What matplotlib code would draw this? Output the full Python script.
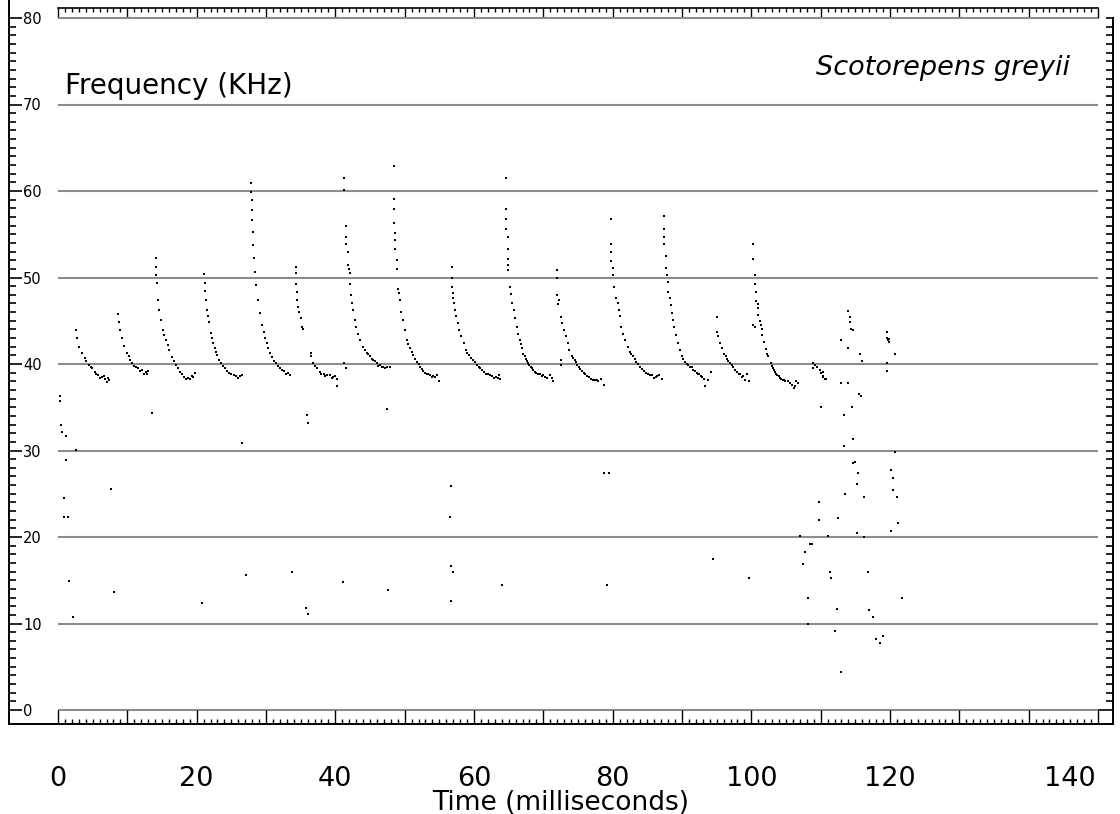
import matplotlib
matplotlib.use("Agg")
import matplotlib.pyplot as plt
from matplotlib.ticker import MultipleLocator, FixedLocator, NullFormatter

# --- data: (time ms, frequency kHz) ---
call_01 = [(2.6, 43.9), (2.8, 43.0), (3.1, 42.0), (3.5, 41.3), (3.9, 40.7), (4.1, 40.4), (4.4, 39.9),
           (4.7, 39.6), (4.9, 39.5), (5.3, 39.1), (5.5, 38.9), (5.8, 38.7), (6.0, 38.4), (6.3, 38.5),
           (6.6, 38.6), (6.8, 38.3), (7.0, 37.9), (7.2, 38.4), (7.3, 38.1)]
call_02 = [(8.6, 45.8), (8.75, 44.9), (8.9, 43.9), (9.2, 43.0), (9.5, 42.1), (9.9, 41.3), (10.2, 40.9),
           (10.4, 40.5), (10.7, 40.1), (10.95, 39.8), (11.2, 39.6), (11.5, 39.5), (11.8, 39.2),
           (12.1, 39.3), (12.4, 38.9), (12.7, 39.1), (12.9, 38.8), (13.0, 39.2)]
call_03 = [(14.1, 52.3), (14.1, 51.2), (14.2, 50.3), (14.3, 49.4), (14.4, 47.4), (14.6, 46.2), (14.8, 45.1),
           (15.1, 43.9), (15.35, 43.3), (15.6, 42.8), (15.8, 42.2), (16.0, 41.6), (16.4, 40.8),
           (16.7, 40.3), (17.0, 39.9), (17.3, 39.5), (17.6, 39.1), (17.9, 38.8), (18.2, 38.5),
           (18.5, 38.3), (18.75, 38.4), (19.0, 38.3), (19.3, 38.6), (19.5, 38.5), (19.8, 39.0)]
call_04 = [(21.1, 50.4), (21.2, 49.4), (21.25, 48.4), (21.3, 47.4), (21.5, 46.2), (21.65, 45.5),
           (21.8, 44.9), (22.1, 43.6), (22.25, 43.0), (22.4, 42.4), (22.6, 41.9), (22.8, 41.4),
           (23.0, 41.0), (23.2, 40.5), (23.5, 40.1), (23.8, 39.8), (24.1, 39.5), (24.4, 39.2),
           (24.7, 39.0), (25.0, 38.8), (25.35, 38.7), (25.7, 38.6), (26.0, 38.4), (26.3, 38.6), (26.5, 38.7)]
call_05 = [(27.8, 60.9), (27.9, 59.9), (27.95, 59.0), (28.0, 57.8), (28.05, 56.6), (28.1, 55.3),
           (28.15, 53.8), (28.3, 52.3), (28.4, 50.6), (28.6, 49.1), (28.8, 47.4), (29.1, 45.9),
           (29.4, 44.5), (29.65, 43.7), (29.9, 43.0), (30.1, 42.4), (30.3, 41.8), (30.6, 41.3),
           (30.9, 40.8), (31.15, 40.4), (31.4, 40.1), (31.7, 39.8), (32.0, 39.5), (32.3, 39.3),
           (32.6, 39.2), (32.9, 38.9), (33.2, 39.0), (33.4, 38.7)]
call_06 = [(34.3, 51.2), (34.35, 50.5), (34.35, 49.3), (34.45, 48.3), (34.45, 47.4), (34.55, 46.6),
           (34.8, 46.0), (35.0, 45.3), (35.2, 44.3), (35.3, 44.1), (36.5, 41.3), (36.55, 40.9),
           (36.8, 40.1), (37.05, 39.8), (37.3, 39.5), (37.8, 39.1), (38.0, 38.9), (38.3, 38.8),
           (38.5, 38.6), (38.75, 38.7), (39.2, 38.7), (39.5, 38.4), (39.7, 38.5), (40.0, 38.6),
           (40.2, 38.3), (40.3, 37.4)]
call_07 = [(41.3, 61.5), (41.3, 60.1), (41.6, 56.0), (41.6, 54.7), (41.6, 53.9), (41.8, 52.9),
           (41.85, 51.5), (41.9, 51.0), (42.1, 50.5), (42.1, 49.3), (42.3, 48.0), (42.4, 47.0),
           (42.6, 46.2), (42.8, 45.1), (43.0, 44.3), (43.2, 43.5), (43.6, 42.8), (44.0, 42.0),
           (44.25, 41.6), (44.5, 41.3), (44.75, 41.1), (45.0, 40.9), (45.25, 40.6), (45.5, 40.5),
           (45.75, 40.3), (46.0, 40.1), (46.2, 39.8), (46.4, 39.9), (46.7, 39.6), (46.9, 39.7),
           (47.2, 39.5), (47.5, 39.6), (47.9, 39.7), (41.3, 40.1), (41.6, 39.5)]
call_08 = [(48.4, 62.9), (48.4, 59.1), (48.4, 57.9), (48.4, 56.3), (48.6, 55.2), (48.6, 54.3),
           (48.6, 53.3), (48.85, 52.0), (48.85, 51.0), (49.1, 48.7), (49.15, 48.2), (49.3, 47.4),
           (49.5, 46.0), (49.8, 45.1), (50.05, 43.9), (50.3, 42.8), (50.55, 42.3), (50.8, 41.8),
           (51.0, 41.4), (51.25, 41.0), (51.5, 40.6), (51.8, 40.2), (52.0, 40.0), (52.2, 39.7),
           (52.45, 39.4), (52.7, 39.2), (52.95, 39.0), (53.2, 38.9), (53.4, 38.8), (53.65, 38.7),
           (53.9, 38.5), (54.1, 38.6), (54.4, 38.5), (54.7, 38.7), (54.95, 38.0)]
call_09 = [(56.8, 51.2), (56.8, 49.9), (56.85, 48.9), (56.9, 48.2), (57.0, 47.6), (57.1, 47.0),
           (57.3, 46.2), (57.45, 45.5), (57.65, 44.7), (57.9, 43.9), (58.1, 43.2), (58.5, 42.4),
           (58.85, 41.6), (59.05, 41.3), (59.3, 41.0), (59.55, 40.7), (59.8, 40.5), (60.1, 40.2),
           (60.4, 39.9), (60.65, 39.7), (60.9, 39.5), (61.15, 39.3), (61.4, 39.1), (61.7, 38.9),
           (62.0, 38.8), (62.3, 38.7), (62.6, 38.6), (62.9, 38.4), (63.2, 38.5), (63.4, 38.4),
           (63.6, 38.7), (63.75, 38.3)]
call_10 = [(64.6, 61.5), (64.6, 57.9), (64.6, 56.8), (64.6, 55.6), (64.85, 54.7), (64.85, 53.3),
           (64.9, 52.1), (64.95, 51.5), (64.95, 50.9), (65.2, 48.9), (65.4, 48.1), (65.5, 47.0),
           (65.7, 46.2), (65.9, 45.3), (66.2, 44.3), (66.35, 43.5), (66.6, 42.8), (66.75, 42.3),
           (66.9, 41.8), (67.1, 41.2), (67.3, 40.9), (67.45, 40.6), (67.6, 40.4), (67.8, 40.1),
           (68.0, 39.9), (68.2, 39.7), (68.4, 39.5), (68.55, 39.3), (68.8, 39.1), (69.0, 39.0),
           (69.25, 38.9), (69.5, 38.8), (69.75, 38.6), (70.0, 38.7), (70.25, 38.5), (70.5, 38.4),
           (70.95, 38.7), (71.2, 38.4), (71.4, 38.0)]
call_11 = [(72.0, 50.9), (72.0, 49.9), (72.0, 48.0), (72.15, 46.9), (72.3, 47.4), (72.55, 45.4),
           (72.7, 44.7), (73.0, 43.9), (73.2, 43.2), (73.5, 42.4), (73.75, 41.6), (74.1, 40.9),
           (74.3, 40.7), (74.5, 40.5), (74.7, 40.2), (74.9, 39.9), (75.1, 39.6), (75.3, 39.4),
           (75.55, 39.2), (75.8, 39.0), (76.05, 38.8), (76.3, 38.6), (76.6, 38.5), (76.9, 38.3),
           (77.2, 38.2), (77.5, 38.1), (77.7, 38.2), (77.95, 38.0), (78.3, 38.3), (78.8, 37.6),
           (72.55, 40.5), (72.6, 39.9)]
call_12 = [(79.8, 56.8), (79.8, 53.9), (79.8, 52.9), (79.8, 51.9), (80.1, 51.1), (80.1, 50.3),
           (80.2, 48.9), (80.5, 47.6), (80.7, 47.0), (80.9, 46.2), (81.1, 45.5), (81.2, 44.3),
           (81.5, 43.5), (81.8, 42.8), (82.2, 42.0), (82.5, 41.4), (82.7, 41.1), (82.9, 40.9),
           (83.15, 40.6), (83.4, 40.2), (83.7, 40.0), (84.0, 39.7), (84.25, 39.4), (84.5, 39.2),
           (84.8, 39.0), (85.1, 38.9), (85.4, 38.7), (85.7, 38.7), (85.95, 38.4), (86.2, 38.5),
           (86.45, 38.6), (86.7, 38.7), (87.1, 38.3)]
call_13 = [(87.4, 57.1), (87.4, 55.6), (87.4, 54.7), (87.4, 53.9), (87.75, 52.5), (87.75, 51.1),
           (87.8, 50.3), (88.0, 49.5), (88.05, 48.3), (88.3, 47.6), (88.4, 46.8), (88.55, 45.9),
           (88.7, 45.1), (88.85, 44.3), (89.1, 43.4), (89.4, 42.4), (89.7, 41.6), (90.0, 40.9),
           (90.2, 40.6), (90.4, 40.2), (90.65, 40.0), (90.9, 39.9), (91.15, 39.7), (91.4, 39.6),
           (91.65, 39.3), (91.9, 39.2), (92.1, 39.0), (92.3, 38.9), (92.5, 38.8), (92.7, 38.6),
           (92.95, 38.5), (93.2, 38.3), (93.3, 37.4), (93.75, 38.2), (94.2, 39.1)]
call_14 = [(95.0, 45.4), (95.0, 43.7), (95.2, 43.2), (95.5, 42.4), (95.8, 41.8), (96.1, 41.2),
           (96.3, 40.9), (96.5, 40.6), (96.7, 40.3), (96.9, 40.1), (97.15, 39.9), (97.4, 39.6),
           (97.65, 39.3), (97.9, 39.1), (98.15, 38.9), (98.4, 38.8), (98.6, 38.5), (98.8, 38.6),
           (99.1, 38.2), (99.4, 38.9), (99.6, 38.0)]
call_15 = [(100.2, 53.9), (100.2, 52.1), (100.5, 50.3), (100.5, 49.3), (100.7, 48.3), (100.7, 47.3),
           (100.9, 46.9), (100.9, 46.5), (101.0, 45.7), (101.3, 45.0), (101.45, 44.5), (101.5, 44.1),
           (101.6, 43.3), (101.85, 42.6), (102.1, 41.7), (102.3, 41.2), (102.45, 40.9), (102.8, 40.1),
           (102.95, 39.8), (103.1, 39.5), (103.25, 39.3), (103.4, 39.1), (103.6, 38.9), (103.75, 38.7),
           (103.95, 38.6), (104.1, 38.4), (104.3, 38.3), (104.5, 38.2), (104.7, 38.1), (104.9, 38.0),
           (105.3, 38.0), (105.55, 37.8), (105.8, 37.6), (106.1, 37.2), (106.3, 37.4), (106.5, 38.0),
           (106.8, 37.8), (100.3, 44.5), (100.5, 44.3)]
call_16 = [(108.85, 39.5), (108.95, 40.1), (109.2, 39.9), (109.4, 39.6), (109.9, 39.3), (110.1, 39.0),
           (110.3, 38.6), (110.6, 38.3), (110.3, 39.1), (110.4, 38.5), (110.7, 38.3)]
noise = [(0.3, 36.3), (0.3, 35.7), (0.4, 32.9), (0.6, 32.1), (1.15, 31.7), (2.6, 30.1), (1.15, 28.9),
         (7.6, 25.5), (0.9, 24.5), (0.9, 22.3), (1.4, 22.3), (1.6, 14.9), (8.1, 13.6), (2.1, 10.7),
         (13.6, 34.3), (26.5, 30.9), (27.1, 15.6), (20.8, 12.4), (33.8, 16.0), (35.9, 34.1),
         (36.0, 33.2), (35.8, 11.8), (36.0, 11.1), (41.1, 14.8), (47.5, 34.8), (47.6, 13.9),
         (56.7, 25.9), (56.5, 22.3), (56.7, 16.6), (57.0, 16.0), (56.7, 12.6), (64.0, 14.5),
         (78.75, 27.4), (79.5, 27.4), (79.2, 14.5), (94.5, 17.5), (99.7, 15.3),
         (113.9, 46.1), (114.2, 45.4), (114.2, 44.9), (114.4, 44.1), (114.6, 43.9), (112.9, 42.8),
         (114.0, 41.8), (115.7, 41.2), (116.0, 40.3), (112.9, 37.8), (114.0, 37.8), (115.5, 36.5),
         (115.8, 36.3), (119.5, 43.7), (119.55, 43.0), (119.7, 42.8), (119.8, 42.9), (119.85, 42.6),
         (119.5, 40.1), (119.5, 39.2), (120.7, 41.2), (110.0, 35.0), (114.5, 35.0), (113.3, 34.1),
         (114.7, 31.3), (113.3, 30.5), (120.7, 29.8), (115.0, 28.7), (114.7, 28.5), (115.4, 27.4),
         (120.2, 27.7), (120.5, 26.8), (115.3, 26.1), (120.5, 25.4), (113.5, 25.0), (116.3, 24.6),
         (121.0, 24.6), (109.8, 24.0), (109.8, 22.0), (112.5, 22.2), (121.2, 21.6), (115.3, 20.5),
         (120.2, 20.7), (107.0, 20.1), (111.0, 20.1), (116.3, 20.0), (108.5, 19.2), (108.7, 19.2),
         (107.7, 18.3), (107.5, 16.9), (111.3, 16.0), (111.5, 15.3), (116.8, 16.0), (108.2, 12.9),
         (121.8, 12.9), (112.3, 11.7), (117.0, 11.6), (117.5, 10.7), (108.2, 9.9), (112.0, 9.1),
         (119.0, 8.6), (118.0, 8.2), (118.5, 7.7), (112.9, 4.4)]

grid_levels = [0, 10, 20, 30, 40, 50, 60, 70, 80]
freq_ticks = [0, 10, 20, 30, 40, 50, 60, 70, 80]
freq_labels = ["0", "10", "20", "30", "40", "50", "60", "70", "80"]
time_label_pos = [0, 20, 40, 60, 80, 100, 120, 145.9]
time_labels = ["0", "20", "40", "60", "80", "100", "120", "140"]

PX = 0.72  # points per pixel at dpi 100

fig = plt.figure(figsize=(11.2, 8.14), dpi=100)
ax = fig.add_axes([58 / 1120, 1 - 710 / 814, 1040 / 1120, 692 / 814])
ax.set_xlim(0, 150)
ax.set_ylim(0, 80)

# horizontal guide lines (also the plot frame at 0 and 80)
ax.hlines(grid_levels, 0, 150, colors="#8c8c8c", linewidth=1.5, clip_on=False, zorder=1)

all_dots = (call_01 + call_02 + call_03 + call_04 + call_05 + call_06 + call_07 + call_08 + call_09
            + call_10 + call_11 + call_12 + call_13 + call_14 + call_15 + call_16 + noise)
ts = [p[0] for p in all_dots]
fs = [p[1] for p in all_dots]
ax.scatter(ts, fs, s=4, marker="s", c="black", linewidths=0, zorder=3, clip_on=False)

# --- left frequency ruler ---
ax.spines["top"].set_visible(False)
ax.spines["right"].set_visible(False)
ax.spines["left"].set_position(("outward", 49 * PX))
ax.spines["left"].set_bounds(-14 / 8.65, 80 + 18 / 8.65)
ax.spines["left"].set_linewidth(1.4)
ax.yaxis.set_major_locator(FixedLocator(freq_ticks))
ax.yaxis.set_minor_locator(MultipleLocator(1))
ax.set_yticklabels(freq_labels)
ax.tick_params(axis="y", which="major", direction="in", length=13 * PX, width=1.2,
               pad=-14 * PX, labelsize=10.5)
ax.tick_params(axis="y", which="minor", direction="in", length=7 * PX, width=1.2)
for lbl in ax.get_yticklabels():
    lbl.set_horizontalalignment("left")

# --- bottom time ruler ---
ax.spines["bottom"].set_position(("outward", 14 * PX))
ax.spines["bottom"].set_bounds(-49 / 6.933, 1055 / 6.933)
ax.spines["bottom"].set_linewidth(1.4)
ax.xaxis.set_major_locator(MultipleLocator(10))
ax.xaxis.set_minor_locator(MultipleLocator(1))
ax.xaxis.set_major_formatter(NullFormatter())
ax.tick_params(axis="x", which="major", direction="in", length=14 * PX, width=1.0)
ax.tick_params(axis="x", which="minor", direction="in", length=5 * PX, width=1.0)

# --- top time ruler ---
top = ax.secondary_xaxis(1 + 10 / 692)
top.xaxis.set_major_locator(MultipleLocator(10))
top.xaxis.set_minor_locator(MultipleLocator(1))
top.xaxis.set_major_formatter(NullFormatter())
top.tick_params(which="major", direction="in", length=10 * PX, width=1.0)
top.tick_params(which="minor", direction="in", length=4 * PX, width=1.0)
top.spines["top"].set_linewidth(1.2)

# --- right frequency ruler ---
right = ax.secondary_yaxis(1 + 15 / 1040)
right.yaxis.set_major_locator(FixedLocator([0]))
right.yaxis.set_minor_locator(MultipleLocator(1))
right.yaxis.set_major_formatter(NullFormatter())
right.tick_params(which="major", direction="in", length=15 * PX, width=1.2)
right.tick_params(which="minor", direction="in", length=7 * PX, width=1.2)
right.spines["right"].set_linewidth(1.4)
right.spines["right"].set_bounds(-14 / 8.65, 80)

# --- big time labels ---
lab = ax.secondary_xaxis(-14 / 692)
lab.xaxis.set_major_locator(FixedLocator(time_label_pos))
lab.set_xticklabels(time_labels)
lab.tick_params(length=0, pad=42 * PX, labelsize=19.5)
lab.spines["bottom"].set_visible(False)

fig.text(561 / 1120, 1 - 803 / 814, "Time (milliseconds)", ha="center", va="center", fontsize=19)
ax.text(1.0, 72.1, "Frequency (KHz)", fontsize=20, va="center", ha="left")
ax.text(146, 74.2, "Scotorepens greyii", fontsize=19.5, style="italic", va="center", ha="right")

fig.savefig("out.png", dpi=100)
